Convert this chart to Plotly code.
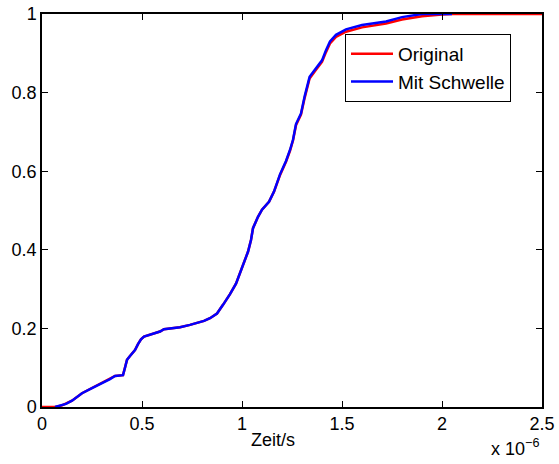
import plotly.graph_objects as go

# x in units of 1e-6 s
orig_x = [0.0, 0.065, 0.10, 0.12, 0.15, 0.20, 0.25, 0.30, 0.34, 0.365, 0.405, 0.415, 0.425, 0.44, 0.465,
          0.48, 0.495, 0.51, 0.55, 0.59, 0.61, 0.65, 0.69, 0.74, 0.79, 0.81, 0.84, 0.875, 0.905, 0.94,
          0.97, 1.00, 1.03, 1.045, 1.055, 1.08, 1.10, 1.135, 1.16, 1.19, 1.22, 1.24, 1.255, 1.27, 1.295,
          1.313, 1.338, 1.37, 1.40, 1.42, 1.44, 1.47, 1.52, 1.60, 1.72, 1.80, 1.90, 2.00, 2.05, 2.5]
orig_y = [0.0, 0.0, 0.004, 0.008, 0.016, 0.035, 0.048, 0.060, 0.071, 0.079, 0.081, 0.10, 0.12, 0.13, 0.145,
          0.16, 0.172, 0.179, 0.185, 0.192, 0.198, 0.201, 0.203, 0.209, 0.216, 0.219, 0.226, 0.238, 0.260, 0.287,
          0.314, 0.355, 0.395, 0.425, 0.455, 0.484, 0.502, 0.522, 0.548, 0.590, 0.624, 0.652, 0.678, 0.717, 0.744,
          0.786, 0.836, 0.858, 0.878, 0.903, 0.925, 0.942, 0.955, 0.966, 0.976, 0.986, 0.994, 0.999, 1.0, 1.0]

thr_x = [0.065, 0.10, 0.12, 0.15, 0.20, 0.25, 0.30, 0.34, 0.365, 0.405, 0.415, 0.425, 0.44, 0.465,
         0.48, 0.495, 0.51, 0.55, 0.59, 0.61, 0.65, 0.69, 0.74, 0.79, 0.81, 0.84, 0.875, 0.905, 0.94,
         0.97, 1.00, 1.03, 1.045, 1.055, 1.08, 1.10, 1.135, 1.16, 1.19, 1.22, 1.24, 1.255, 1.27, 1.295,
         1.313, 1.338, 1.37, 1.40, 1.42, 1.44, 1.47, 1.52, 1.60, 1.72, 1.80, 1.88, 1.90, 2.05]
thr_y = [0.0, 0.004, 0.008, 0.016, 0.035, 0.048, 0.060, 0.071, 0.079, 0.081, 0.10, 0.12, 0.13, 0.145,
         0.16, 0.172, 0.179, 0.185, 0.192, 0.198, 0.201, 0.203, 0.209, 0.216, 0.219, 0.226, 0.238, 0.260, 0.287,
         0.314, 0.355, 0.395, 0.425, 0.455, 0.484, 0.502, 0.522, 0.548, 0.592, 0.626, 0.654, 0.680, 0.720, 0.747,
         0.790, 0.840, 0.862, 0.882, 0.908, 0.930, 0.947, 0.961, 0.972, 0.981, 0.992, 0.999, 1.0, 1.0]

x_ticks = [0, 0.5, 1, 1.5, 2, 2.5]
x_labels = ["0", "0.5", "1", "1.5", "2", "2.5"]
y_ticks = [0, 0.2, 0.4, 0.6, 0.8, 1]
y_labels = ["0", "0.2", "0.4", "0.6", "0.8", "1"]

FONT = "Liberation Sans, Arial, Helvetica, sans-serif"
FS = 18

fig = go.Figure()
fig.add_trace(go.Scatter(x=orig_x, y=orig_y, mode="lines", name="Original",
                         line=dict(color="#ff0000", width=2.5)))
fig.add_trace(go.Scatter(x=thr_x, y=thr_y, mode="lines", name="Mit Schwelle",
                         line=dict(color="#0000ff", width=2.5)))

axis_common = dict(showline=True, linecolor="black", linewidth=1.5, mirror="ticks",
                   ticks="inside", ticklen=6, tickwidth=1, tickcolor="black",
                   showgrid=False, zeroline=False, automargin=False,
                   tickfont=dict(family=FONT, size=FS, color="black"))

fig.update_xaxes(range=[0, 2.5], tickvals=x_ticks, ticktext=x_labels, **axis_common)
fig.update_yaxes(range=[0, 1], tickvals=y_ticks, ticktext=y_labels, **axis_common)

fig.update_layout(
    width=559, height=464,
    margin=dict(l=42, r=17, t=14, b=57, autoexpand=False),
    paper_bgcolor="white", plot_bgcolor="white",
    font=dict(family=FONT, size=FS, color="black"),
    showlegend=True,
    legend=dict(x=(345 - 42) / 500, y=(407 - 34) / 393, xanchor="left", yanchor="top",
                bgcolor="white", bordercolor="black", borderwidth=1,
                font=dict(family=FONT, size=19, color="black"),
                tracegroupgap=0, itemwidth=42),
    annotations=[
        dict(text="Zeit/s", xref="paper", yref="paper", x=(273 - 42) / 500, y=(407 - 440) / 393,
             xanchor="center", yanchor="middle", showarrow=False,
             font=dict(family=FONT, size=FS, color="black")),
        dict(text="x 10<sup>\u22126</sup>", xref="paper", yref="paper", x=(489 - 42) / 500, y=(407 - 434) / 393,
             xanchor="left", yanchor="top", showarrow=False,
             font=dict(family=FONT, size=FS, color="black")),
    ],
)

fig.write_html("out.html", config={"displayModeBar": False},
               post_script="document.body.style.margin='0';document.body.style.padding='0';")
